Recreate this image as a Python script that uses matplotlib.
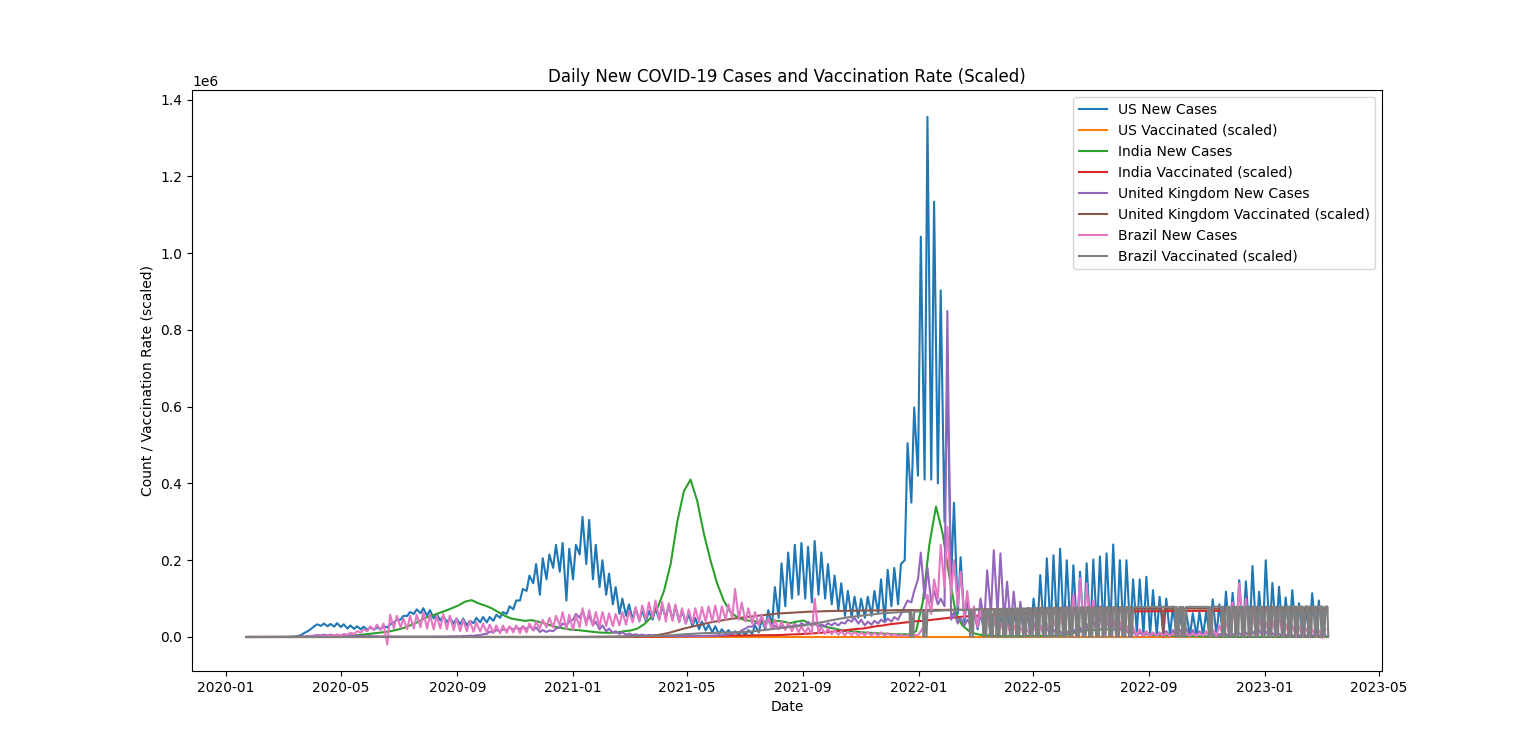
"""
Daily new COVID-19 cases and vaccination rate (scaled) for four countries.
Values read off the reference picture, in thousands, one pair (weekly high /
weekly low) per week for the noisy case series, one value per week for the
smooth ones. Vaccination = fully vaccinated per hundred * 1000.
"""
import numpy as np
import pandas as pd
import matplotlib
matplotlib.use("Agg")
import matplotlib.pyplot as plt

START = "2020-01-22"
END = pd.Timestamp("2023-03-09")
weeks = pd.date_range(START, periods=164, freq="7D")

# --- US new cases: weekly high / low (thousands), weeks 0..162 ---
us_hi = [0, 0, 0, 0, 0, 0, 0.5, 2, 10, 20,
         33, 35, 34, 36, 33, 30, 28, 27, 25, 25,
         28, 33, 45, 55, 65, 72, 75, 70, 60, 55,
         50, 48, 48, 42, 50, 52, 52, 58, 65, 80,
         95, 125, 160, 190, 205, 215, 240, 245, 230, 240,
         313, 305, 240, 200, 165, 130, 100, 85, 75, 70,
         68, 75, 80, 85, 80, 70, 60, 50, 40, 32,
         28, 20, 18, 15, 15, 18, 30, 45, 70, 130,
         192, 220, 240, 245, 235, 250, 220, 190, 160, 140,
         120, 105, 100, 105, 120, 150, 175, 180, 190, 505,
         598, 1043, 1355, 1134, 903, 670, 350, 208, 100, 70,
         60, 55, 50, 55, 60, 70, 70, 75, 100, 161,
         205, 213, 230, 200, 187, 170, 192, 202, 210, 218,
         241, 200, 200, 150, 150, 157, 122, 105, 100, 79,
         65, 65, 62, 65, 65, 98, 85, 118, 115, 148,
         145, 185, 118, 200, 141, 131, 103, 122, 88, 79,
         114, 95, 62]
us_lo = [0, 0, 0, 0, 0, 0, 0.2, 1, 5, 15,
         28, 29, 28, 27, 26, 22, 21, 20, 19, 19,
         20, 25, 38, 45, 55, 60, 62, 55, 48, 43,
         38, 35, 33, 30, 36, 38, 38, 42, 50, 60,
         72, 95, 120, 140, 110, 150, 180, 170, 95, 150,
         215, 190, 150, 130, 110, 85, 60, 55, 45, 42,
         40, 45, 45, 50, 45, 40, 35, 28, 20, 17,
         12, 8, 8, 6, 5, 5, 8, 12, 20, 30,
         50, 80, 100, 110, 100, 90, 110, 100, 85, 70,
         55, 50, 50, 50, 55, 60, 40, 80, 85, 200,
         350, 420, 410, 410, 400, 300, 150, 60, 40, 25,
         20, 15, 10, 8, 5, 5, 8, 8, 10, 10,
         15, 15, 15, 10, 15, 10, 10, 8, 15, 12,
         15, 10, 10, 8, 8, 5, 5, 5, 5, 5,
         3, 3, 3, 3, 3, 3, 3, 3, 3, 3,
         3, 3, 5, 3, 5, 5, 3, 3, 3, 3,
         3, 3, 3]

# --- India new cases: one value per week (thousands), weeks 0..163 ---
india = [0, 0, 0, 0, 0, 0, 0, 0, 0.1, 0.2,
         0.5, 0.9, 1.1, 1.5, 2, 3, 3.7, 5.5, 7, 9,
         11, 13, 16, 20, 25, 32, 40, 50, 55, 62,
         68, 75, 82, 92, 96, 88, 82, 75, 65, 55,
         48, 45, 42, 44, 40, 35, 30, 25, 22, 19,
         18, 16, 14, 12, 11, 11, 12, 15, 17, 22,
         33, 50, 75, 120, 190, 300, 380, 410, 355, 270,
         200, 140, 95, 65, 52, 45, 42, 40, 38, 42,
         42, 40, 36, 40, 43, 35, 32, 28, 24, 21,
         16, 15, 14, 12, 11, 10, 9, 8, 7, 7,
         7, 15, 90, 240, 340, 270, 160, 60, 30, 15,
         8, 5, 4, 3, 2, 2, 2, 2, 3, 3,
         3, 3, 4, 4, 7, 12, 15, 18, 18, 20,
         20, 20, 19, 16, 12, 10, 7, 5, 5, 4,
         3, 2.5, 2, 2, 1.5, 1.5, 1, 1, 0.5, 0.5,
         0.3, 0.3, 0.2, 0.2, 0.2, 0.2, 0.2, 0.2, 0.3, 0.3,
         0.4, 0.5, 0.6, 0.7]

# --- United Kingdom new cases: weekly high / low (thousands) ---
uk_hi = [0, 0, 0, 0, 0, 0, 0, 0.5, 1.5, 3,
         5, 6, 6, 6, 5, 4, 3.5, 3, 2.5, 2,
         1.8, 1.5, 1.2, 1, 1, 0.9, 1, 1, 1.2, 1.2,
         1.5, 2, 2.5, 3.5, 4.5, 7, 14, 18, 20, 25,
         26, 28, 30, 25, 18, 17, 22, 35, 40, 60,
         68, 55, 40, 30, 22, 15, 12, 9, 7, 6,
         5.5, 5, 4.5, 3, 3, 2.5, 2.5, 2.5, 2.5, 3,
         4, 5, 7, 11, 17, 27, 35, 50, 45, 30,
         28, 30, 34, 36, 40, 38, 33, 36, 37, 38,
         45, 50, 45, 40, 42, 45, 48, 52, 60, 95,
         120, 220, 180, 120, 100, 849, 65, 50, 45, 60,
         100, 174, 226, 218, 144, 118, 92, 60, 40, 30,
         25, 20, 15, 15, 20, 25, 35, 45, 60, 50,
         40, 30, 20, 15, 12, 10, 10, 12, 15, 18,
         20, 22, 18, 15, 12, 10, 8, 8, 8, 10,
         12, 15, 18, 15, 10, 8, 6, 5, 5, 5,
         5, 5, 5]
uk_lo = [0, 0, 0, 0, 0, 0, 0, 0.3, 0.8, 2,
         3.5, 4, 4, 4, 3.5, 3, 2.5, 2, 1.5, 1.5,
         1.2, 1, 0.8, 0.7, 0.7, 0.6, 0.7, 0.7, 0.8, 0.9,
         1, 1.5, 1.5, 2.5, 3, 5, 8, 12, 15, 18,
         19, 20, 20, 17, 13, 13, 15, 25, 30, 45,
         50, 40, 30, 20, 15, 11, 8, 6, 5, 4.5,
         4, 3.5, 3, 2, 2, 1.8, 1.8, 1.8, 2, 2.2,
         3, 3.5, 5, 8, 12, 22, 27, 38, 32, 22,
         22, 25, 27, 28, 30, 28, 26, 28, 30, 30,
         35, 40, 35, 30, 32, 35, 38, 40, 45, 80,
         90, 150, 100, 90, 85, 80, 45, 35, 30, 30,
         30, 40, 60, 60, 40, 30, 20, 15, 10, 5,
         3, 3, 3, 3, 3, 3, 5, 5, 5, 5,
         5, 2, 2, 2, 2, 2, 2, 2, 2, 2,
         2, 2, 2, 2, 2, 2, 1, 1, 1, 1,
         1, 1, 1, 1, 0.5, 0.5, 0.5, 0, 0, 0,
         0, 0, 0]

# --- Brazil new cases: weekly high / low (thousands) ---
bra_hi = [0, 0, 0, 0, 0, 0, 0, 0.1, 0.5, 1.5,
          2, 3, 4, 6, 8, 11, 15, 20, 28, 32,
          35, 58, 55, 48, 55, 58, 65, 58, 55, 60,
          55, 48, 45, 42, 38, 35, 32, 30, 30, 28,
          30, 28, 35, 40, 45, 50, 55, 65, 58, 55,
          75, 70, 65, 65, 62, 60, 65, 68, 78, 82,
          90, 95, 92, 88, 85, 75, 72, 75, 78, 80,
          82, 80, 85, 125, 90, 75, 65, 58, 50, 45,
          40, 37, 33, 28, 25, 100, 25, 22, 18, 15,
          14, 13, 12, 12, 11, 12, 10, 8, 6, 5,
          5, 15, 110, 150, 240, 287, 200, 170, 120, 80,
          70, 60, 50, 40, 35, 30, 25, 20, 25, 30,
          35, 45, 60, 80, 110, 153, 140, 95, 80, 60,
          50, 40, 30, 25, 20, 15, 12, 10, 10, 8,
          8, 7, 8, 10, 15, 20, 30, 40, 90, 140,
          100, 70, 50, 40, 45, 60, 35, 30, 28, 25,
          20, 18, 20]
bra_lo = [0, 0, 0, 0, 0, 0, 0, 0, 0.3, 0.5,
          1, 1.5, 2, 3, 4, 6, 8, 12, 15, 18,
          18, -20, 22, 25, 20, 22, 25, 22, 20, 22,
          20, 18, 15, 15, 14, 14, 12, 11, 10, 11,
          12, 10, 12, 18, 22, 25, 25, 30, 20, 18,
          25, 30, 30, 28, 28, 28, 30, 32, 38, 40,
          45, 50, 45, 40, 42, 38, 35, 35, 38, 40,
          40, 38, 45, 50, 45, 40, 35, 30, 25, 22,
          20, 18, 15, 12, 10, 8, 10, 8, 7, 6,
          5, 5, 4, 4, 4, 3, 3, 3, 2, 2,
          2, 5, 30, 60, 100, 130, 110, 80, 50, 30,
          25, 20, 15, 10, 8, 8, 5, 5, 5, 8,
          8, 10, 12, 15, 15, 20, 20, 15, 12, 10,
          10, 8, 5, 5, 4, 4, 3, 3, 3, 3,
          3, 3, 3, 3, 3, 3, 3, 3, 5, 5,
          5, 3, 3, 3, 2, 2, 2, 1, 1, 0,
          0, 0, -3]

# --- vaccination (fully vaccinated per hundred * 1000, in thousands) ---
us_vac = [0] * 164
india_vac = [0] * 58 + [
    0.5, 0.6, 0.7, 0.8, 1, 1.2, 1.4, 1.6, 2, 2.2,
    2.5, 2.7, 3, 3.2, 3.4, 3.6, 3.8, 4, 4.2, 4.4,
    4.6, 4.8, 5, 5.5, 6.5, 7, 8, 9, 10, 11.5,
    13, 15, 17, 19, 21, 22, 25, 28, 30, 33,
    35, 37, 39, 41, 42, 44, 46, 48, 50, 51,
    53, 54, 55, 56, 57, 58, 59, 60, 60.5, 61,
    62, 62.5, 63, 63.5, 64, 64, 64.5, 65, 65, 65.5,
    65.5, 66, 66, 66, 66.5, 66.5, 66.5, 67, 67, 67,
    67, 67.5, 67.5, 67.5, 67.5, 68, 68, 68, 68, 68,
    68.5, 68.5, 68.5, 68.5, 68.5, 69, 69, 69, 69, 69,
    69, 69.5, 69.5, 69.5, 69.5, 69.5]
uk_vac = [0] * 50 + [
    0.2, 0.3, 0.5, 0.7, 0.8, 0.9, 1, 1.2,
    1.5, 1.8, 2.2, 3, 5, 8, 12, 17, 22, 26,
    30, 34, 38, 41, 44, 47, 49, 51, 53, 55,
    57, 59, 61, 62, 63, 64, 65, 66, 66.5, 67,
    67.5, 68, 68, 68.5, 68.5, 69, 69, 69, 69.5, 69.5,
    70, 70, 70, 70, 70, 70.5, 70.5, 70.5, 71, 71,
    71, 71.5, 71.5, 71.5, 72, 72, 72, 72, 72.5, 72.5,
    72.5, 72.5, 73, 73, 73, 73, 73, 73, 73, 73.5,
    73.5, 73.5, 73.5, 73.5, 73.5, 73.5, 73.5, 73.5, 73.5, 73.5,
    73.5, 73.5, 74, 74, 74, 74, 74, 74, 74, 74,
    74, 74.5, 74.5, 74.5, 74.5, 74.5, 74.5, 74.5, 74.5, 74.5,
    75, 75, 75, 75, 75, 75]
uk_vac_gap_weeks = [113, 138, 155]
bra_vac = [0] * 55 + [
    0.5, 0.8, 1, 1.5, 2,
    2.3, 2.6, 3, 3.5, 4.5, 5.5, 7, 8, 9, 10,
    10.5, 11, 11.5, 12, 12.5, 13, 14, 16, 18, 20,
    22, 24, 26, 28, 30, 33, 36, 39, 43, 46,
    49, 52, 54, 56, 58, 60, 62, 63, 64, 65,
    66, 66.5, 67, 67.5, 68, 69, 69.5, 70, 70.5, 71,
    71.5, 72, 72.5, 73, 73.5, 74, 74.5, 75, 75.5, 76,
    76, 76.5, 76.5, 77, 77, 77, 77.5, 77.5, 77.5, 78,
    78, 78, 78, 78, 78, 78, 78, 78, 78.5, 78.5,
    78.5, 78.5, 78.5, 78.5, 78.5, 78.5, 79, 79, 79, 79,
    79, 79, 79, 79, 79, 79, 79, 79.5, 79.5, 79.5,
    79.5, 79.5, 79.5, 79.5]
bra_vac_gap_weeks = [100, 102, 109] + list(range(111, 134)) + [140, 141, 145] \
    + list(range(147, 164))


def zigzag(hi, lo, hi_off, lo_off):
    """Interleave weekly high/low values into one dated series."""
    pts = []
    for w, h, l in zip(weeks, hi, lo):
        pts.append((w + pd.Timedelta(days=lo_off), l))
        pts.append((w + pd.Timedelta(days=hi_off), h))
    pts = sorted(p for p in pts if p[0] <= END)
    d, v = zip(*pts)
    return pd.DatetimeIndex(d), np.array(v, dtype=float) * 1000


def weekly(vals):
    return weeks[:len(vals)], np.array(vals, dtype=float) * 1000


def with_gaps(level, gap_weeks, drops=(2,)):
    """Weekly level series; in the gap weeks the value falls to 0 (missing
    report filled with 0) on the given day offsets."""
    pts = []
    for i, (w, v) in enumerate(zip(weeks, level)):
        pts.append((w, v))
        if i in gap_weeks:
            for off in drops:
                pts.append((w + pd.Timedelta(days=off), 0))
                pts.append((w + pd.Timedelta(days=off + 1), v))
    pts = sorted(p for p in pts if p[0] <= END)
    d, v = zip(*pts)
    return pd.DatetimeIndex(d), np.array(v, dtype=float) * 1000


series = [
    ("US New Cases", zigzag(us_hi, us_lo, 5, 2)),
    ("US Vaccinated (scaled)", weekly(us_vac)),
    ("India New Cases", weekly(india)),
    ("India Vaccinated (scaled)", weekly(india_vac)),
    ("United Kingdom New Cases", zigzag(uk_hi, uk_lo, 5, 2)),
    ("United Kingdom Vaccinated (scaled)", with_gaps(uk_vac, uk_vac_gap_weeks)),
    ("Brazil New Cases", zigzag(bra_hi, bra_lo, 5, 2)),
    ("Brazil Vaccinated (scaled)", with_gaps(bra_vac, bra_vac_gap_weeks, drops=(1, 4))),
]

fig, ax = plt.subplots(figsize=(15.36, 7.54), dpi=100)
for label, (d, v) in series:
    ax.plot(d, v, label=label)

ax.set_title("Daily New COVID-19 Cases and Vaccination Rate (Scaled)")
ax.set_xlabel("Date")
ax.set_ylabel("Count / Vaccination Rate (scaled)")
ax.legend(loc="upper right")
fig.savefig("out.png", dpi=100)
